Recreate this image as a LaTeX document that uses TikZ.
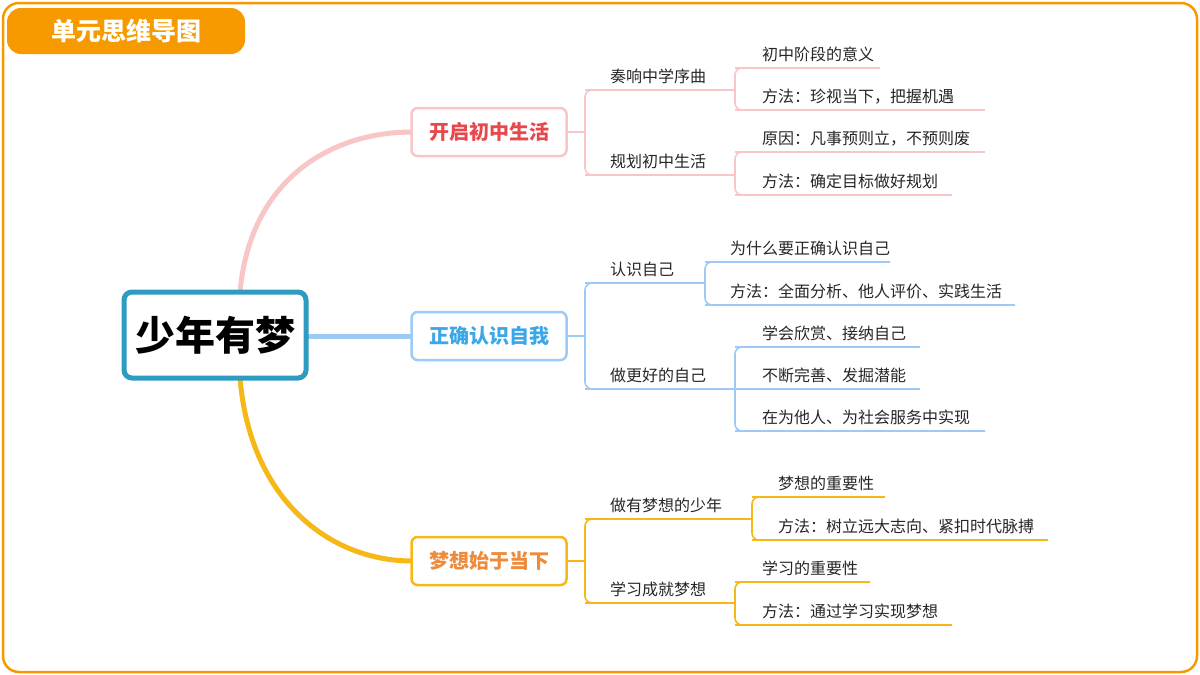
\documentclass[tikz,border=0pt]{standalone}
\usepackage{fontspec}
\setmainfont{Noto Sans CJK SC}
\newcommand{\lf}[7]{% name, color, bracket x, text x, y, xend, text
 \coordinate (#1-s) at (#3,#5);
 \coordinate (#1-e) at (#6,#5);
 \node[lbl] (#1) at (#4,#5-8) {#7};
 \draw[#2,line width=1.6pt] (#1-s) -- (#1-e);}
\newcommand{\con}[3]{% color, from, to-name
 \draw[#1,line width=1.6pt] (#2) -- (#2 -| #3-s);
 \draw[#1,br] (#2 -| #3-s) |- (#3-e);}
\begin{document}
\begin{tikzpicture}[x=1pt,y=-1pt]
\definecolor{org}{HTML}{F79A00}
\definecolor{pk}{HTML}{F8C6C6}
\definecolor{pkt}{HTML}{E8474C}
\definecolor{bl}{HTML}{9DCBF5}
\definecolor{blt}{HTML}{3BA7E6}
\definecolor{yl}{HTML}{F6B817}
\definecolor{ylt}{HTML}{EE8A3A}
\definecolor{teal}{HTML}{2E9BC0}
\tikzset{
 box/.style={draw,line width=2.5pt,rounded corners=6pt,fill=white,minimum width=155pt,minimum height=48pt,font=\fontsize{20}{20}\selectfont\bfseries},
 lbl/.style={anchor=base west,inner sep=0pt,font=\fontsize{16}{16}\selectfont,text=black!85},
 br/.style={line width=1.6pt,rounded corners=7pt},
}
\useasboundingbox (0,0) rectangle (1200,675);
\draw[org,line width=2.5pt,rounded corners=16pt] (3,3) rectangle (1197,672);
\node[fill=org,rounded corners=14pt,minimum width=238pt,minimum height=46pt,text=white,font=\fontsize{25}{25}\selectfont\bfseries] (title) at (126,31) {单元思维导图};
\coordinate (c1) at (240,292);
\coordinate (c3) at (240,378);
\draw[pk,line width=5pt] (c1) .. controls (250,180) and (330,132) .. (412,132);
\draw[yl,line width=5pt] (c3) .. controls (250,500) and (330,561) .. (412,561);
\draw[bl,line width=5pt] (300,336) -- (412,336);
\node[draw=teal,line width=5pt,rounded corners=8pt,fill=white,minimum width=182pt,minimum height=86pt,font=\fontsize{40}{40}\selectfont\bfseries] (c) at (215,335) {少年有梦};
\node[box,draw=pk,text=pkt] (b1) at (489,132) {开启初中生活};
\node[box,draw=bl,text=blt] (b2) at (489,336) {正确认识自我};
\node[box,draw=yl,text=ylt] (b3) at (489,561) {梦想始于当下};
% branch 1
\lf{s11}{pk}{585}{610}{90}{735}{奏响中学序曲}
\lf{s12}{pk}{585}{610}{175}{735}{规划初中生活}
\con{pk}{b1.east}{s11}\con{pk}{b1.east}{s12}
\coordinate (s11m) at (735,90);
\coordinate (s12m) at (735,175);
\lf{l111}{pk}{735}{762}{68}{880}{初中阶段的意义}
\lf{l112}{pk}{735}{762}{110}{985}{方法：珍视当下，把握机遇}
\lf{l121}{pk}{735}{762}{152}{985}{原因：凡事预则立，不预则废}
\lf{l122}{pk}{735}{762}{195}{952}{方法：确定目标做好规划}
\con{pk}{s11m}{l111}\con{pk}{s11m}{l112}
\con{pk}{s12m}{l121}\con{pk}{s12m}{l122}
% branch 2
\lf{s21}{bl}{585}{610}{283}{705}{认识自己}
\lf{s22}{bl}{585}{610}{389}{735}{做更好的自己}
\con{bl}{b2.east}{s21}\con{bl}{b2.east}{s22}
\coordinate (s21m) at (705,283);
\coordinate (s22m) at (735,389);
\lf{l211}{bl}{705}{730}{262}{890}{为什么要正确认识自己}
\lf{l212}{bl}{705}{730}{305}{1015}{方法：全面分析、他人评价、实践生活}
\lf{l221}{bl}{735}{762}{347}{920}{学会欣赏、接纳自己}
\lf{l222}{bl}{735}{762}{389}{920}{不断完善、发掘潜能}
\lf{l223}{bl}{735}{762}{431}{985}{在为他人、为社会服务中实现}
\con{bl}{s21m}{l211}\con{bl}{s21m}{l212}
\con{bl}{s22m}{l221}\con{bl}{s22m}{l223}
% branch 3
\lf{s31}{yl}{585}{610}{519}{750}{做有梦想的少年}
\lf{s32}{yl}{585}{610}{603}{735}{学习成就梦想}
\con{yl}{b3.east}{s31}\con{yl}{b3.east}{s32}
\coordinate (s31m) at (750,519);
\coordinate (s32m) at (735,603);
\lf{l311}{yl}{752}{778}{497}{885}{梦想的重要性}
\lf{l312}{yl}{752}{778}{540}{1048}{方法：树立远大志向、紧扣时代脉搏}
\lf{l321}{yl}{735}{762}{582}{870}{学习的重要性}
\lf{l322}{yl}{735}{762}{625}{952}{方法：通过学习实现梦想}
\con{yl}{s31m}{l311}\con{yl}{s31m}{l312}
\con{yl}{s32m}{l321}\con{yl}{s32m}{l322}
\end{tikzpicture}
\end{document}
